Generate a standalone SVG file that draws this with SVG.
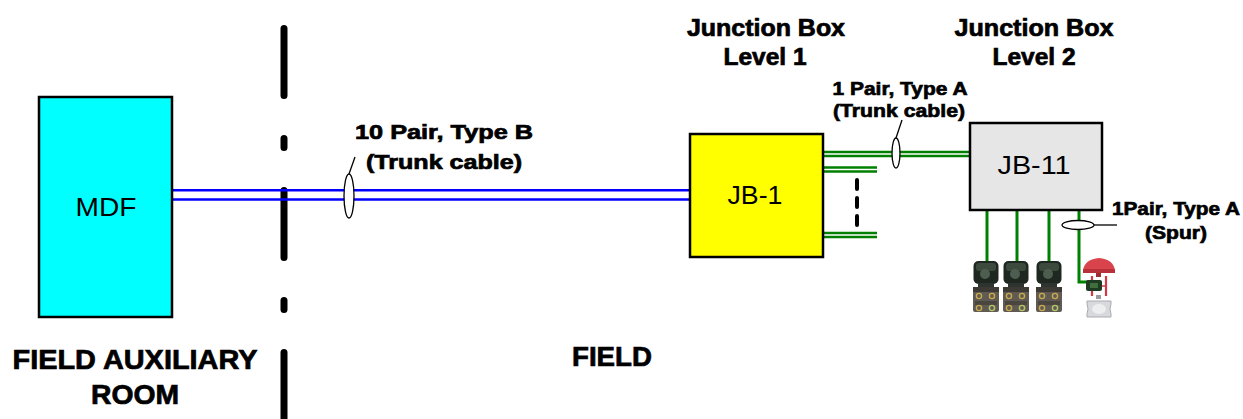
<svg xmlns="http://www.w3.org/2000/svg" width="1243" height="419" viewBox="0 0 1243 419">
  <style>
    .box { stroke: #000; stroke-width: 2.5; }
    .name { font-family: "Liberation Sans", Arial, sans-serif; font-size: 26px; fill: #000; text-anchor: middle; }
    .lbl { font-family: "Liberation Sans", Arial, sans-serif; font-weight: bold; fill: #000; stroke: #000; stroke-width: 0.7; text-anchor: middle; }
    .blue { stroke: #0000ff; stroke-width: 2.6; fill: none; }
    .green { stroke: #008000; stroke-width: 2.3; fill: none; }
    .spur { stroke: #008000; stroke-width: 3; fill: none; }
    .tie { fill: #fff; stroke: #000; stroke-width: 1.3; }
    .lead { stroke: #000; stroke-width: 1.3; fill: none; }
  </style>
  <defs>
    <!-- pressure transmitter icon, origin at top-centre -->
    <g id="transmitter">
      <rect x="-12.5" y="0" width="25" height="23" rx="5" fill="#1f2820"/>
      <rect x="-10" y="2" width="20" height="8" rx="3" fill="#3c4a3e"/>
      <circle cx="-1" cy="13" r="5" fill="#4d5d50"/>
      <rect x="-8" y="22" width="16" height="4" fill="#2e3530"/>
      <rect x="-13" y="26" width="26" height="25" rx="2" fill="#5f5b52"/>
      <rect x="-13" y="26" width="26" height="5" fill="#3d3a35"/>
      <rect x="-11" y="40" width="22" height="4" fill="#4a463f"/>
      <circle cx="-7" cy="35" r="2.6" fill="none" stroke="#c9a84e" stroke-width="1.4"/>
      <circle cx="6" cy="35" r="2.6" fill="none" stroke="#c9a84e" stroke-width="1.4"/>
      <circle cx="-7" cy="47" r="2.6" fill="none" stroke="#c9a84e" stroke-width="1.4"/>
      <circle cx="6" cy="47" r="2.6" fill="none" stroke="#b7c46a" stroke-width="1.4"/>
    </g>
  </defs>

  <rect width="1243" height="419" fill="#fff"/>

  <!-- boundary between auxiliary room and field -->
  <g id="boundary">
    <path d="M284,28.5 V419" stroke="#000" stroke-width="7" stroke-linecap="round" stroke-dasharray="67 43 9 43" fill="none"/>
  </g>

  <!-- cables -->
  <g id="connectors">
    <path class="blue" d="M172,190.3 H690 M172,199.5 H690"/>
    <path class="green" d="M823,152 H970 M823,156 H970"/>
    <path class="green" d="M823,167.5 H877 M823,171.5 H877"/>
    <path class="green" d="M823,233 H877 M823,237 H877"/>
    <path d="M857,180 V225" stroke="#000" stroke-width="4" stroke-linecap="round" stroke-dasharray="9 9" fill="none"/>
    <path class="spur" d="M987,210 V261 M1017,210 V261 M1049,210 V261"/>
    <path class="spur" d="M1079,210 V282 H1092"/>
  </g>

  <!-- cable ties and leaders -->
  <g id="cable-tags">
    <path class="lead" d="M349,174 L355,157"/>
    <ellipse class="tie" cx="349" cy="196" rx="5" ry="22"/>
    <path class="lead" d="M896,138 L902,120"/>
    <ellipse class="tie" cx="896" cy="153" rx="4" ry="15"/>
    <path class="lead" d="M1094,225 H1117"/>
    <ellipse class="tie" cx="1078" cy="225" rx="16" ry="4.5"/>
  </g>

  <g id="mdf">
    <rect class="box" x="39" y="97" width="133" height="220" fill="#00ffff"/>
    <text class="name" x="106" y="216" font-size="27" textLength="61" lengthAdjust="spacingAndGlyphs">MDF</text>
  </g>

  <g id="jb-1">
    <rect class="box" x="690" y="134" width="133" height="123" fill="#ffff00"/>
    <text class="name" x="755" y="204" textLength="55" lengthAdjust="spacingAndGlyphs">JB-1</text>
  </g>

  <g id="jb-11">
    <rect class="box" x="970" y="123" width="132" height="87" fill="#e6e6e6"/>
    <text class="name" x="1034" y="174" font-size="27" textLength="73" lengthAdjust="spacingAndGlyphs">JB-11</text>
  </g>

  <!-- field instruments -->
  <g id="transmitter-1"><use href="#transmitter" x="986" y="261"/></g>
  <g id="transmitter-2"><use href="#transmitter" x="1016" y="261"/></g>
  <g id="transmitter-3"><use href="#transmitter" x="1049" y="261"/></g>
  <g id="control-valve">
    <path d="M1083,270 Q1085,259 1099,258 Q1113,259 1115,270 Z" fill="#d9434b"/>
    <rect x="1083" y="269" width="32" height="4" fill="#b8303a"/>
    <rect x="1096" y="273" width="5" height="4" fill="#a02a33"/>
    <path d="M1092,276 V296 M1106,276 V296" stroke="#d13a44" stroke-width="2.2"/>
    <path d="M1092,286 H1106" stroke="#d13a44" stroke-width="1.5"/>
    <rect x="1086" y="280" width="16" height="11" rx="2" fill="#1f3a22"/>
    <rect x="1090" y="283" width="8" height="5" fill="#3f6e3c"/>
    <rect x="1096" y="295" width="5" height="4" fill="#9a9a9a"/>
    <path d="M1087,301 H1111 V304 Q1109,309 1111,314 V317 H1087 V314 Q1089,309 1087,304 Z" fill="#d7d9dc" stroke="#a9abb0" stroke-width="1"/>
    <ellipse cx="1099" cy="309" rx="7" ry="5" fill="#eceef0"/>
  </g>

  <!-- labels -->
  <g id="labels">
    <text class="lbl" x="444" y="139" font-size="20" textLength="178" lengthAdjust="spacingAndGlyphs">10 Pair, Type B</text>
    <text class="lbl" x="444" y="169" font-size="20" textLength="156" lengthAdjust="spacingAndGlyphs">(Trunk cable)</text>
    <text class="lbl" x="766" y="36" font-size="23" textLength="158" lengthAdjust="spacingAndGlyphs">Junction Box</text>
    <text class="lbl" x="765" y="65" font-size="23" textLength="83" lengthAdjust="spacingAndGlyphs">Level 1</text>
    <text class="lbl" x="900" y="95" font-size="19" textLength="135" lengthAdjust="spacingAndGlyphs">1 Pair, Type A</text>
    <text class="lbl" x="899" y="117" font-size="19" textLength="132" lengthAdjust="spacingAndGlyphs">(Trunk cable)</text>
    <text class="lbl" x="1034" y="36" font-size="23" textLength="159" lengthAdjust="spacingAndGlyphs">Junction Box</text>
    <text class="lbl" x="1034" y="65" font-size="23" textLength="83" lengthAdjust="spacingAndGlyphs">Level 2</text>
    <text class="lbl" x="1176" y="215" font-size="19" textLength="128" lengthAdjust="spacingAndGlyphs">1Pair, Type A</text>
    <text class="lbl" x="1176" y="239" font-size="19" textLength="62" lengthAdjust="spacingAndGlyphs">(Spur)</text>
    <text class="lbl" x="135" y="369" font-size="27" textLength="245" lengthAdjust="spacingAndGlyphs">FIELD AUXILIARY</text>
    <text class="lbl" x="135" y="404" font-size="27" textLength="88" lengthAdjust="spacingAndGlyphs">ROOM</text>
    <text class="lbl" x="612" y="366" font-size="27" textLength="80" lengthAdjust="spacingAndGlyphs">FIELD</text>
  </g>
</svg>
